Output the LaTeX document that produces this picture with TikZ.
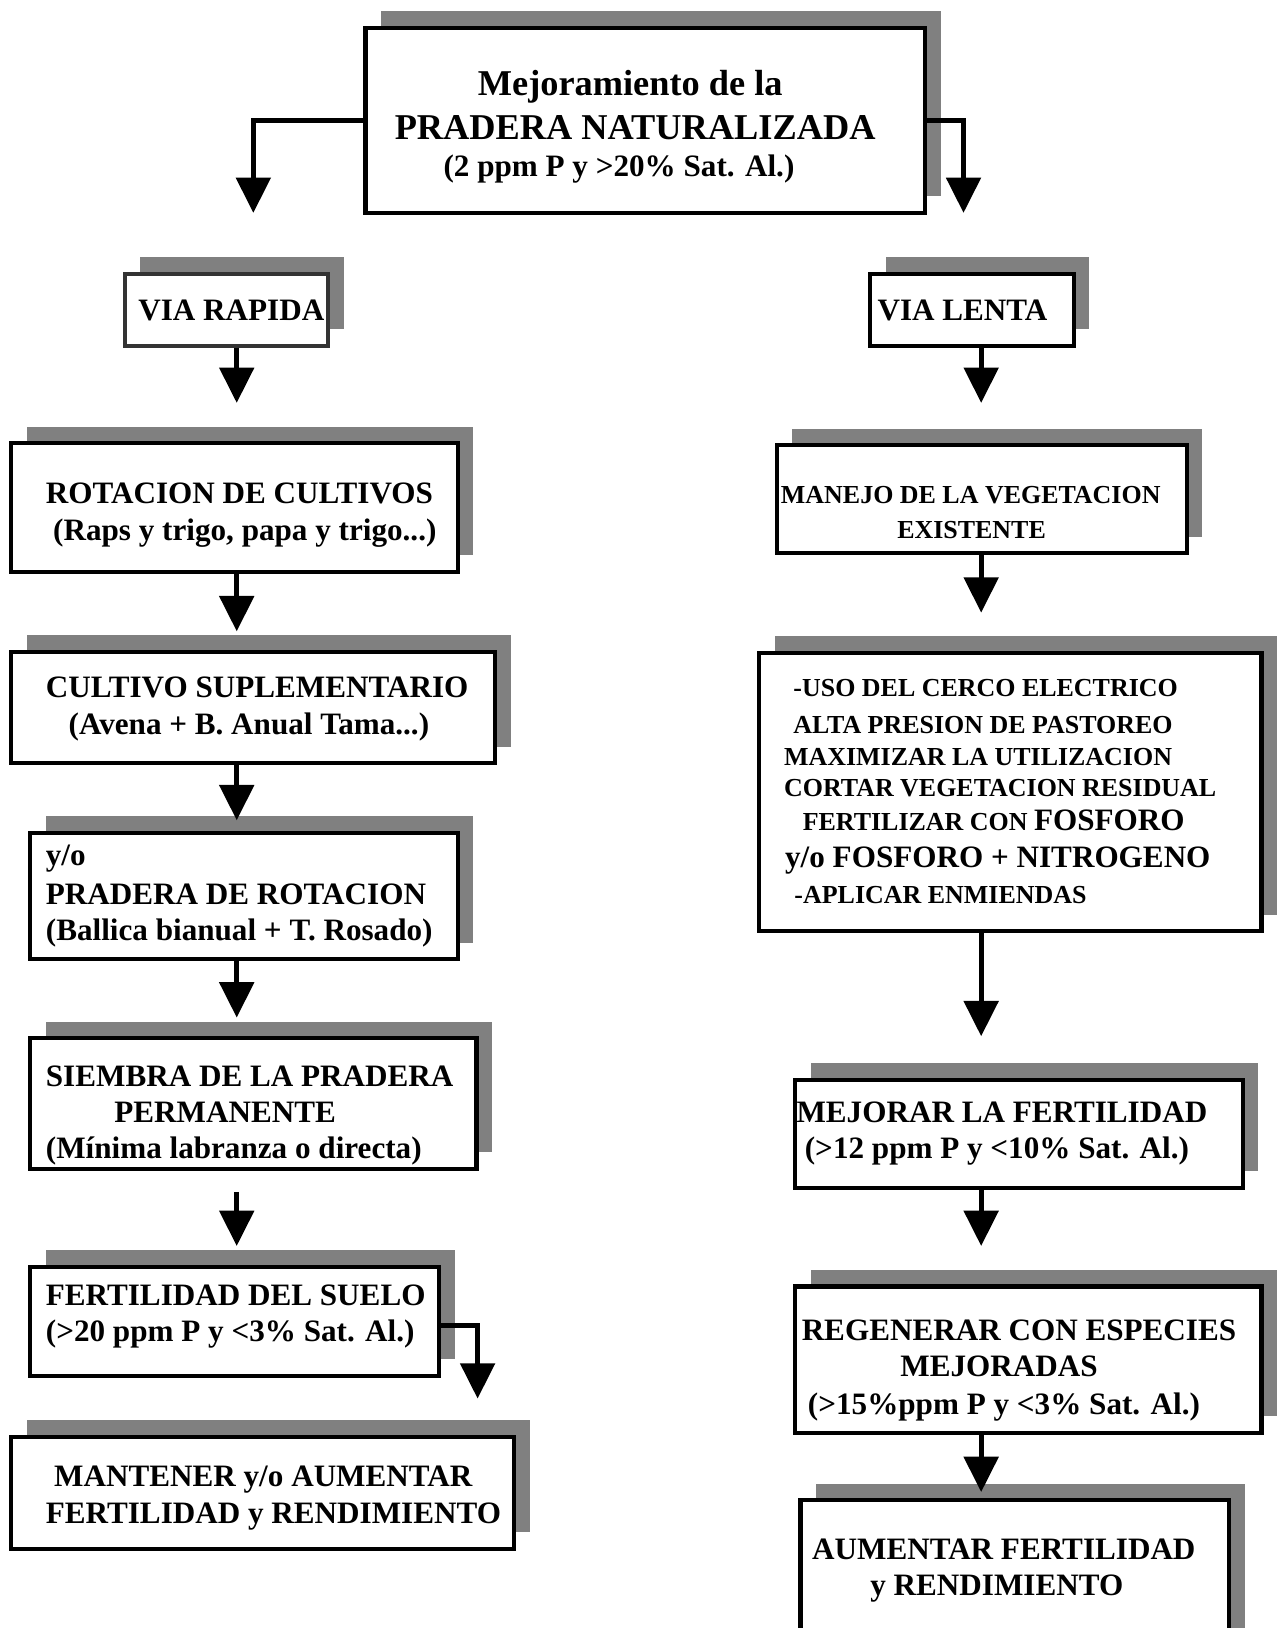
\documentclass[tikz,border=0pt]{standalone}
\usepackage{fontspec}
\setmainfont{Liberation Serif}
\usetikzlibrary{arrows.meta,shadows}
\definecolor{shadowgray}{HTML}{808080}
\definecolor{darkborder}{HTML}{333333}
\newcommand\bx[6][black]{\node[boxs,draw=#1,minimum width={(#5-#3)*1pt},minimum height={(#6-#4)*1pt}] (#2) at ({(#3+#5)/2},{-(#4+#6)/2}) {};}
\newcommand\tx[5]{\node[txt,font=#4] (#1) at (#2,-#3) {#5};}
\newcommand\fA{\bfseries\fontsize{30}{36}\selectfont}
\newcommand\fB{\bfseries\fontsize{25}{30}\selectfont}
\newcommand\fC{\bfseries\fontsize{35}{42}\selectfont}
\begin{document}
\begin{tikzpicture}[x=1pt,y=1pt,
  boxs/.style={line width=4pt,fill=white,inner sep=0pt,
    drop shadow={shadow xshift=15pt,shadow yshift=16pt,fill=shadowgray,opacity=1}},
  txt/.style={anchor=base west,inner sep=0pt},
  arr/.style={line width=4.5pt,line join=miter,-{Triangle[width=33pt,length=34pt]}}]
\useasboundingbox[fill=white] (0,0) rectangle (1229,-1568);
% boxes
\bx{top}{352}{27}{891}{205}
\bx[darkborder]{vr}{120}{264}{316}{333}
\bx{vl}{838}{264}{1034}{333}
\bx{rot}{11}{427}{441}{551}
\bx{cul}{11}{628}{477}{735}
\bx{pr}{29}{802}{441}{924}
\bx{si}{29}{1000}{459}{1126}
\bx{fe}{29}{1220}{423}{1325}
\bx{ma}{11}{1384}{495}{1492}
\bx{mn}{748}{429}{1143}{533}
\bx{big}{731}{629}{1215}{897}
\bx{me}{766}{1040}{1197}{1144}
\bx{re}{766}{1239}{1215}{1380}
\bx{au}{771}{1445}{1184}{1600}
% texts
\tx{t1}{460}{92}{\fC}{Mejoramiento de la}
\tx{t2}{380}{134}{\fC}{PRADERA NATURALIZADA}
\tx{t3}{427}{170}{\fA}{(2 ppm P y >20\% Sat. Al.)}
\tx{vrt}{133}{309}{\fA}{VIA RAPIDA}
\tx{vlt}{845}{309}{\fA}{VIA LENTA}
\tx{rot1}{44}{485}{\fA}{ROTACION DE CULTIVOS}
\tx{rot2}{51}{521}{\fA}{(Raps y trigo, papa y trigo...)}
\tx{cul1}{44}{672}{\fA}{CULTIVO SUPLEMENTARIO}
\tx{cul2}{66}{707}{\fA}{(Avena + B. Anual Tama...)}
\tx{pr1}{44}{834}{\fA}{y/o}
\tx{pr2}{44}{871}{\fA}{PRADERA DE ROTACION}
\tx{pr3}{44}{906}{\fA}{(Ballica bianual + T. Rosado)}
\tx{si1}{44}{1046}{\fA}{SIEMBRA DE LA PRADERA}
\tx{si2}{110}{1081}{\fA}{PERMANENTE}
\tx{si3}{44}{1116}{\fA}{(Mínima labranza o directa)}
\tx{fe1}{44}{1257}{\fA}{FERTILIDAD DEL SUELO}
\tx{fe2}{44}{1292}{\fA}{(>20 ppm P y <3\% Sat. Al.)}
\tx{ma1}{52}{1432}{\fA}{MANTENER y/o AUMENTAR}
\tx{ma2}{44}{1467}{\fA}{FERTILIDAD y RENDIMIENTO}
\tx{mn1}{752}{485}{\fB}{MANEJO DE LA VEGETACION}
\tx{mn2}{864}{519}{\fB}{EXISTENTE}
\tx{g1}{764}{671}{\fB}{-USO DEL CERCO ELECTRICO}
\tx{g2}{764}{706}{\fB}{ALTA PRESION DE PASTOREO}
\tx{g3}{755}{737}{\fB}{MAXIMIZAR LA UTILIZACION}
\tx{g4}{755}{767}{\fB}{CORTAR VEGETACION RESIDUAL}
\tx{g5}{773}{800}{\fB}{FERTILIZAR CON {\fA FOSFORO}}
\tx{g6}{756}{836}{\fA}{y/o FOSFORO + NITROGENO}
\tx{g7}{765}{870}{\fB}{-APLICAR ENMIENDAS}
\tx{me1}{767}{1081}{\fA}{MEJORAR LA FERTILIDAD}
\tx{me2}{775}{1116}{\fA}{(>12 ppm P y <10\% Sat. Al.)}
\tx{re1}{772}{1291}{\fA}{REGENERAR CON ESPECIES}
\tx{re2}{867}{1326}{\fA}{MEJORADAS}
\tx{re3}{778}{1362}{\fA}{(>15\%ppm P y <3\% Sat. Al.)}
\tx{au1}{782}{1502}{\fA}{AUMENTAR FERTILIDAD}
\tx{au2}{838}{1537}{\fA}{y RENDIMIENTO}
% connectors
\coordinate (L) at (228,0);
\coordinate (R) at (945,0);
\coordinate (aL) at (244,-205);
\coordinate (aR) at (928,-205);
\draw[arr] (top.west) -| (aL);
\draw[arr] (top.east) -| (aR);
\coordinate (e1) at (228,-388);
\coordinate (e2) at (228,-608);
\coordinate (e3) at (228,-790);
\coordinate (e4) at (228,-980);
\coordinate (s5) at (228,-1148);
\coordinate (e5) at (228,-1200);
\coordinate (e6) at (460,-1347);
\draw[arr] (vr.south -| L) -- (e1);
\draw[arr] (rot.south -| L) -- (e2);
\draw[arr] (cul.south -| L) -- (e3);
\draw[arr] (pr.south -| L) -- (e4);
\draw[arr] (s5) -- (e5);
\draw[arr] ([yshift=-4pt]fe.east) -| (e6);
\coordinate (f1) at (945,-388);
\coordinate (f2) at (945,-590);
\coordinate (f3) at (945,-998);
\coordinate (f4) at (945,-1200);
\coordinate (f5) at (945,-1437);
\draw[arr] (vl.south -| R) -- (f1);
\draw[arr] (mn.south -| R) -- (f2);
\draw[arr] (big.south -| R) -- (f3);
\draw[arr] (me.south -| R) -- (f4);
\draw[arr] (re.south -| R) -- (f5);
\end{tikzpicture}
\end{document}
